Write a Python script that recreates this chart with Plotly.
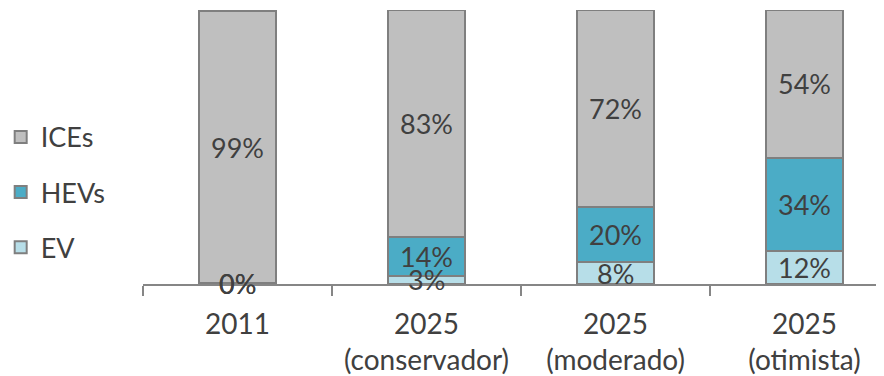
import plotly.graph_objects as go

categories = ["2011", "2025<br>(conservador)", "2025<br>(moderado)", "2025<br>(otimista)"]
ev = [0.1, 3, 8, 12]
hevs = [0.4, 14, 20, 34]
ices = [99, 83, 72, 54]

FONT = "Lato"
TEXT = "#404040"
EDGE = "#7F7F7F"

series = [
    ("EV", ev, "#B7DEE8", 3),
    ("HEVs", hevs, "#4BACC6", 2),
    ("ICEs", ices, "#BFBFBF", 1),
]

fig = go.Figure()
base = [0] * len(categories)
for name, vals, color, rank in series:
    fig.add_trace(go.Bar(
        x=categories, y=vals, name=name, legendgroup=name, legendrank=rank,
        marker=dict(color=color, line=dict(color=EDGE, width=2)),
        width=0.41,
    ))
    # labels as annotations so they sit above every segment (like the original)
    for i, (b, v) in enumerate(zip(base, vals)):
        fig.add_annotation(x=i, y=b + v / 2, text=f"{v:.0f}%", showarrow=False,
                           font=dict(family=FONT, size=27, color=TEXT))
    base = [b + v for b, v in zip(base, vals)]

fig.update_layout(
    width=884, height=376,
    barmode="stack",
    margin=dict(l=135, r=0, t=2, b=100, autoexpand=False),
    paper_bgcolor="white", plot_bgcolor="white",
    font=dict(family=FONT, color=TEXT, size=27),
    showlegend=True,
    legend=dict(
        xref="paper", yref="container", x=-0.19, y=0.721,
        xanchor="left", yanchor="top",
        traceorder="grouped", tracegroupgap=17,
        font=dict(family=FONT, size=27, color=TEXT),
        itemwidth=30,
    ),
    xaxis=dict(
        type="category", range=[-0.5, 3.463],
        showline=True, linecolor="#868686", linewidth=2,
        ticks="outside", tickson="boundaries", ticklen=10, tickwidth=2, tickcolor="#868686",
        ticklabelstandoff=14,
        showgrid=False, tickfont=dict(family=FONT, size=28, color=TEXT),
        fixedrange=True,
    ),
    yaxis=dict(range=[0, 100], visible=False, fixedrange=True),
)

fig.write_html("out.html")
